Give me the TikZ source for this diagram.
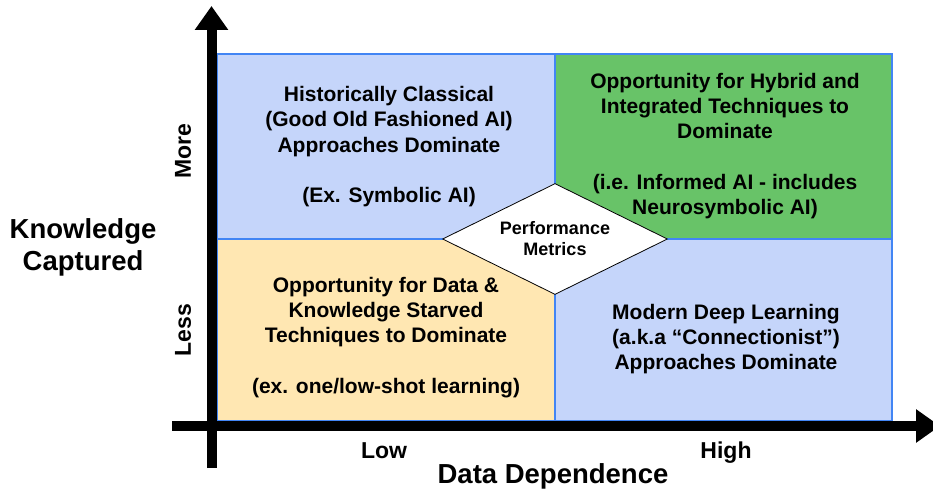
\documentclass[tikz,border=0pt]{standalone}
\usepackage{fontspec}
\setmainfont{Liberation Sans}
\usetikzlibrary{arrows.meta,shapes.geometric}

\definecolor{quadblue}{RGB}{197,213,250}
\definecolor{quadgreen}{RGB}{104,195,104}
\definecolor{quadyellow}{RGB}{255,231,178}
\definecolor{edgeblue}{RGB}{66,133,244}

\tikzset{
  quad/.style={draw=edgeblue,line width=1.2pt},
  quadtext/.style={font=\fontsize{21}{25.3}\selectfont\bfseries,align=center,inner sep=0pt},
  axislabel/.style={font=\fontsize{27.5}{32}\selectfont\bfseries,align=center,inner sep=0pt},
  ticklabel/.style={font=\fontsize{23}{26}\selectfont\bfseries,inner sep=0pt},
  axisline/.style={line width=10pt,-{Triangle[length=24pt,width=32pt]}}
}

\begin{document}
\begin{tikzpicture}[x=1pt,y=-1pt]
		\useasboundingbox (0,0) rectangle (933,489);
		% quadrants
		\draw[quad,fill=quadblue] (217,54) rectangle (555,239);
		\draw[quad,fill=quadgreen] (555,54) rectangle (892,239);
		\draw[quad,fill=quadyellow] (217,239) rectangle (555,421);
		\draw[quad,fill=quadblue] (555,239) rectangle (892,421);
		% axes
		\coordinate (ybot) at (211.5,468);
		\coordinate (ytop) at (211.5,6);
		\coordinate (xleft) at (172,426);
		\coordinate (xright) at (940,426);
		\draw[axisline] (ybot) -- (ytop);
		\draw[axisline] (xleft) -- (xright);
		% quadrant texts
		\node[quadtext] (classical) at (389,146.8) {Historically Classical\\(Good Old Fashioned AI)\\Approaches Dominate\\[25.3pt](Ex. Symbolic AI)};
		\node[quadtext] (hybrid) at (725,146.2) {Opportunity for Hybrid and\\Integrated Techniques to\\Dominate\\[25.3pt](i.e. Informed AI - includes\\Neurosymbolic AI)};
		\node[quadtext] (starved) at (386,337.4) {Opportunity for Data \&\\Knowledge Starved\\Techniques to Dominate\\[25.3pt](ex. one/low-shot learning)};
		\node[quadtext] (deep) at (726,339.2) {Modern Deep Learning\\(a.k.a “Connectionist”)\\Approaches Dominate};
		% centre
		\node[diamond,draw,fill=white,line width=0.8pt,aspect=2,minimum width=225pt,minimum height=111pt,inner sep=0pt,
		  font=\fontsize{18}{21}\selectfont\bfseries,align=center] (metrics) at (555,239) {Performance\\Metrics};
		% axis labels
		\node[axislabel] (knowledge) at (83,247) {Knowledge\\Captured};
		\node[axislabel,anchor=base] (data) at (553,483) {Data Dependence};
		\node[ticklabel,anchor=base] (low) at (384,458) {Low};
		\node[ticklabel,anchor=base] (high) at (726,458) {High};
		\node[ticklabel,rotate=90] (more) at (183,151) {More};
		\node[ticklabel,rotate=90] (less) at (183,330) {Less};
	\end{tikzpicture}
\end{document}
